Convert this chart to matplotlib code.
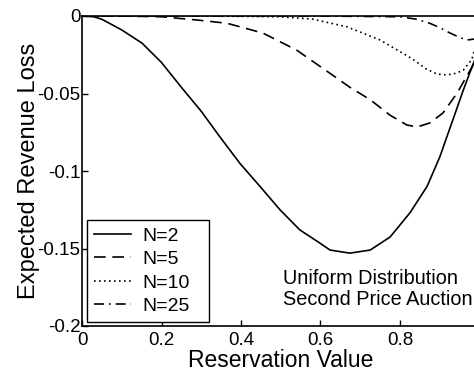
import matplotlib.pyplot as plt

plt.rcParams['font.family'] = ['Liberation Sans', 'DejaVu Sans']

# Values
x_n2 = [0, 0.03, 0.05, 0.10, 0.151, 0.20, 0.25, 0.30, 0.347, 0.397, 0.448, 0.498, 0.548, 0.599, 0.624,
        0.674, 0.725, 0.775, 0.825, 0.868, 0.90, 0.933, 0.959, 0.981, 0.99]
y_n2 = [0, -0.0005, -0.0021, -0.009, -0.0175, -0.030, -0.046, -0.0615, -0.078, -0.095, -0.110, -0.125, -0.138,
        -0.1466, -0.151, -0.153, -0.151, -0.1426, -0.127, -0.110, -0.091, -0.067, -0.048, -0.033, -0.027]

x_n5 = [0, 0.1, 0.2, 0.29, 0.365, 0.455, 0.54, 0.624, 0.674, 0.725, 0.775, 0.817, 0.843, 0.875, 0.908,
        0.943, 0.981, 0.99]
y_n5 = [0, 0, -0.0005, -0.0026, -0.0047, -0.011, -0.022, -0.037, -0.046, -0.054, -0.064, -0.0703, -0.0716,
        -0.069, -0.0626, -0.050, -0.033, -0.028]

x_n10 = [0, 0.3, 0.5, 0.58, 0.667, 0.75, 0.80, 0.833, 0.865, 0.893, 0.918, 0.94, 0.959, 0.981, 0.99]
y_n10 = [0, 0, -0.0005, -0.002, -0.007, -0.0155, -0.023, -0.028, -0.034, -0.0375, -0.038, -0.037, -0.035,
         -0.028, -0.019]

x_n25 = [0, 0.6, 0.8, 0.84, 0.875, 0.90, 0.926, 0.95, 0.968, 0.99]
y_n25 = [0, 0, -0.0005, -0.002, -0.0047, -0.0075, -0.011, -0.0138, -0.0155, -0.0148]

labels = ['N=2', 'N=5', 'N=10', 'N=25']
xticks = [0, 0.2, 0.4, 0.6, 0.8]
xtick_labels = ['0', '0.2', '0.4', '0.6', '0.8']
yticks = [0, -0.05, -0.1, -0.15, -0.2]
ytick_labels = ['0', '-0.05', '-0.1', '-0.15', '-0.2']

fig = plt.figure(figsize=(4.74, 3.71), dpi=100)
ax = fig.add_axes([82 / 474, 45 / 371, 397.5 / 474, 310 / 371])

lw = 1.2
ax.plot(x_n2, y_n2, color='black', lw=lw, linestyle='-', label=labels[0])
ax.plot(x_n5, y_n5, color='black', lw=lw, linestyle=(0, (7, 4)), label=labels[1])
ax.plot(x_n10, y_n10, color='black', lw=lw, linestyle=(0, (1, 2)), label=labels[2])
ax.plot(x_n25, y_n25, color='black', lw=lw, linestyle=(0, (6, 3, 1, 3)), label=labels[3])

ax.set_xlim(0, 1)
ax.set_ylim(-0.2, 0)
ax.set_xticks(xticks)
ax.set_xticklabels(xtick_labels)
ax.set_yticks(yticks)
ax.set_yticklabels(ytick_labels)
ax.tick_params(direction='in', length=4, width=1, labelsize=13.5)
ax.tick_params(axis='x', pad=4.5)
ax.tick_params(axis='y', pad=1)
for s in ax.spines.values():
    s.set_linewidth(1.2)

ax.set_xlabel('Reservation Value', fontsize=16.5, labelpad=0)
ax.set_ylabel('Expected Revenue Loss', fontsize=17)
ax.yaxis.set_label_coords(-0.106, 0.5)

ax.text(0.506, -0.176, 'Uniform Distribution\nSecond Price Auction', fontsize=14.3,
        ha='left', va='center', linespacing=1.15)

leg = ax.legend(loc='lower left', bbox_to_anchor=(0.0126, 0.013, 0.307, 0.3), mode='expand',
                borderaxespad=0, fontsize=14, handlelength=1.9, handletextpad=0.6,
                labelspacing=0.3, borderpad=0.35, fancybox=False, edgecolor='black',
                framealpha=1)
leg.get_frame().set_linewidth(1.0)

fig.savefig('out.png', dpi=100)
